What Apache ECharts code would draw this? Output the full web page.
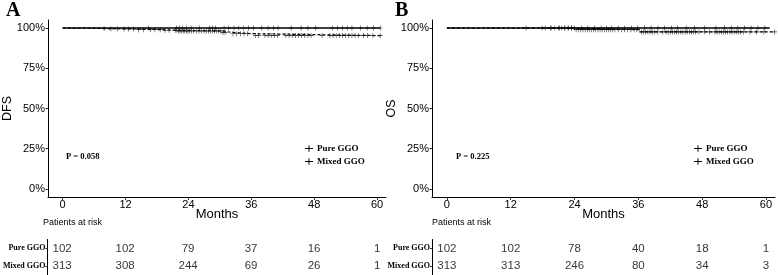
<!DOCTYPE html>
<html>
<head>
<meta charset="utf-8">
<script src="https://cdn.jsdelivr.net/npm/echarts@6/dist/echarts.min.js"></script>
<style>html,body{margin:0;padding:0;background:#fff;}#c{width:778px;height:275px;}</style>
</head>
<body>
<div id="c"></div>
<script>
// ---------- DATA ----------
var xTicks = [0, 12, 24, 36, 48, 60];
var yTicks = [0, 25, 50, 75, 100];
var groups = ['Pure GGO', 'Mixed GGO'];

// Panel A (DFS) step curves: [month, survival %]
var dfsPureCurve = [[0, 100], [60.6, 100]];
var dfsMixedCurve = [[0, 100], [5, 99.7], [8, 99.4], [14, 99.0], [19, 98.6], [22, 98.2], [30.5, 97.3], [32.2, 96.5], [36.3, 95.3], [60.6, 95.3]];
var dfsPureCensor = [16.4, 21.7, 22.3, 22.9, 23.6, 24.5, 26.1, 28.0, 28.6, 29.2, 30.8, 31.7, 32.7, 33.6, 34.5, 35.5, 36.4, 38.0, 39.2, 40.2, 41.1, 43.6, 45.5, 46.8, 48.3, 51.5, 52.4, 53.4, 54.3, 55.2, 56.8, 58.1, 59.3, 60.6];
var dfsMixedCensor = [7.9, 9.2, 10.4, 11.7, 12.6, 13.5, 14.5, 15.4, 16.7, 17.6, 18.6, 19.5, 20.3, 21.5, 21.8, 22.1, 22.4, 22.7, 23.0, 23.3, 23.6, 23.9, 24.2, 24.6, 25.0, 25.5, 26.0, 26.5, 27.0, 27.4, 27.8, 28.2, 28.6, 29.0, 29.4, 29.8, 30.2, 30.6, 31.0, 32.5, 33.2, 33.9, 34.6, 35.3, 36.8, 37.4, 38.6, 39.2, 39.8, 40.4, 41.0, 42.6, 43.2, 43.8, 44.4, 45.0, 45.6, 46.2, 46.8, 47.4, 49.5, 51.0, 51.6, 52.2, 52.8, 53.4, 54.0, 54.6, 55.2, 55.8, 56.4, 57.4, 58.2, 59.2, 60.6];
var dfsRiskPure = [102, 102, 79, 37, 16, 1];
var dfsRiskMixed = [313, 308, 244, 69, 26, 1];
var dfsP = 'P = 0.058';

// Panel B (OS)
var osPureCurve = [[0, 100], [60.7, 100]];
var osMixedCurve = [[0, 100], [23.8, 99.0], [36.2, 97.6], [61.6, 97.6]];
var osPureCensor = [14.9, 17.9, 19.6, 21.2, 22.1, 22.8, 23.4, 24.0, 25.3, 26.5, 27.8, 29.0, 30.0, 30.9, 32.2, 33.4, 34.7, 35.9, 37.2, 38.4, 39.7, 40.9, 42.2, 43.4, 45.0, 46.6, 48.5, 50.6, 52.2, 53.5, 54.7, 56.0, 57.2, 58.5, 59.8];
var osMixedCensor = [18.5, 19.5, 20.3, 21.0, 21.6, 22.2, 22.8, 23.4, 24.3, 24.7, 25.1, 25.6, 26.0, 26.4, 26.8, 27.2, 27.6, 28.0, 28.4, 28.8, 29.2, 29.6, 30.0, 30.4, 30.8, 31.2, 31.6, 32.2, 32.8, 33.4, 34.0, 34.6, 35.2, 35.7, 36.6, 37.0, 37.4, 37.8, 38.2, 38.6, 39.0, 39.6, 40.6, 41.2, 41.6, 42.0, 42.4, 42.8, 43.2, 43.6, 44.0, 44.4, 44.8, 45.2, 45.6, 46.0, 46.4, 46.8, 47.4, 48.4, 49.4, 50.4, 50.8, 51.2, 51.6, 52.0, 52.4, 52.8, 53.2, 53.6, 54.0, 54.4, 54.8, 55.2, 55.8, 57.0, 58.2, 59.6, 61.6];
var osRiskPure = [102, 102, 78, 40, 18, 1];
var osRiskMixed = [313, 313, 246, 80, 34, 3];
var osP = 'P = 0.225';

// ---------- BUILD ----------
var plusPath = 'path://M4.4,0H5.6V10H4.4Z M0,4.4H10V5.6H0Z';
var legendIcon = 'path://M0,4.5H10V5.5H0Z M4.4,1H5.6V9H4.4Z';

function survAt(curve, t) {
  var s = curve[0][1];
  for (var i = 0; i < curve.length; i++) { if (curve[i][0] <= t) s = curve[i][1]; }
  return s;
}
function censorPts(curve, times) { return times.map(function (t) { return [t, survAt(curve, t)]; }); }
function riskPts(pure, mixed) {
  var out = [];
  xTicks.forEach(function (x, i) { out.push([x, groups[0], pure[i]]); out.push([x, groups[1], mixed[i]]); });
  return out;
}

var sans = 'Liberation Sans, Arial, sans-serif';
var serif = 'Liberation Serif, Times New Roman, serif';
var XMIN = -2.8, XMAX = 61.7;

function kmX(gi) {
  return {
    type: 'value', gridIndex: gi, min: XMIN, max: XMAX,
    name: 'Months', nameLocation: 'middle', nameGap: 11, nameMoveOverlap: false,
    nameTextStyle: { fontFamily: sans, fontSize: 13, color: '#000' },
    axisLine: { show: true, onZero: false, lineStyle: { color: '#000', width: 1 } },
    axisTick: { show: true, length: 3, customValues: xTicks, lineStyle: { color: '#333' } },
    axisLabel: { customValues: xTicks, margin: 2, fontFamily: sans, fontSize: 11, color: '#000' },
    splitLine: { show: false }
  };
}
function kmY(gi, nm) {
  return {
    type: 'value', gridIndex: gi, min: -5, max: 105,
    name: nm, nameLocation: 'middle', nameGap: 34, nameRotate: 90, nameMoveOverlap: false,
    nameTextStyle: { fontFamily: sans, fontSize: 12.5, color: '#000' },
    axisLine: { show: true, onZero: false, lineStyle: { color: '#000', width: 1 } },
    axisTick: { show: true, length: 2.5, customValues: yTicks, lineStyle: { color: '#333' } },
    axisLabel: { customValues: yTicks, margin: 3, formatter: '{value}%', fontFamily: sans, fontSize: 11, color: '#000' },
    splitLine: { show: false }
  };
}
function riskX(gi) {
  return { type: 'value', gridIndex: gi, min: XMIN, max: XMAX, show: false, axisLine: { onZero: false }, splitLine: { show: false } };
}
function riskY(gi) {
  return {
    type: 'category', gridIndex: gi, data: groups, inverse: true,
    axisLine: { show: true, onZero: false, lineStyle: { color: '#000', width: 1 } },
    axisTick: { show: true, length: 2, alignWithLabel: true, lineStyle: { color: '#333' } },
    axisLabel: { margin: 2, fontFamily: serif, fontWeight: 'bold', fontSize: 8, color: '#000' },
    splitLine: { show: false }
  };
}

function kmSeries(xi, curvePure, curveMixed, cPure, cMixed) {
  return [
    { name: groups[0], type: 'line', xAxisIndex: xi, yAxisIndex: xi, step: 'end', data: curvePure,
      showSymbol: false, symbol: 'none', lineStyle: { color: '#000', width: 1.4, type: 'solid' }, itemStyle: { color: '#000' }, z: 3 },
    { name: groups[1], type: 'line', xAxisIndex: xi, yAxisIndex: xi, step: 'end', data: curveMixed,
      showSymbol: false, symbol: 'none', lineStyle: { color: '#000', width: 1.2, type: [3, 2] }, itemStyle: { color: '#000' }, z: 3 },
    { name: groups[0], type: 'scatter', xAxisIndex: xi, yAxisIndex: xi, data: censorPts(curvePure, cPure),
      symbol: plusPath, symbolSize: 5, itemStyle: { color: '#000' }, z: 4 },
    { name: groups[1], type: 'scatter', xAxisIndex: xi, yAxisIndex: xi, data: censorPts(curveMixed, cMixed),
      symbol: plusPath, symbolSize: 5, itemStyle: { color: '#000' }, z: 4 }
  ];
}
function riskSeries(xi, pure, mixed) {
  return {
    type: 'scatter', xAxisIndex: xi, yAxisIndex: xi, data: riskPts(pure, mixed),
    symbolSize: 1, itemStyle: { color: 'rgba(0,0,0,0)' },
    label: { show: true, position: 'inside', formatter: function (p) { return String(p.value[2]); },
      fontFamily: sans, fontSize: 11.5, color: '#000' }
  };
}
function legendCfg(left) {
  return {
    data: groups, orient: 'vertical', left: left, top: 139, itemGap: 4,
    icon: legendIcon, itemWidth: 8, itemHeight: 8,
    textStyle: { fontFamily: serif, fontWeight: 'bold', fontSize: 9, color: '#000', padding: [0, 0, 0, -1] },
    selectedMode: false
  };
}

var option = {
  animation: false,
  backgroundColor: '#fff',
  grid: [
    { left: 43, top: 20, width: 343, height: 177 },
    { left: 43, top: 239.5, width: 343, height: 42 },
    { left: 432, top: 20, width: 343, height: 177 },
    { left: 432, top: 239.5, width: 343, height: 42 }
  ],
  xAxis: [kmX(0), riskX(1), kmX(2), riskX(3)],
  yAxis: [kmY(0, 'DFS'), riskY(1), kmY(2, 'OS'), riskY(3)],
  legend: [legendCfg(300), legendCfg(689)],
  series: [].concat(
    kmSeries(0, dfsPureCurve, dfsMixedCurve, dfsPureCensor, dfsMixedCensor),
    [riskSeries(1, dfsRiskPure, dfsRiskMixed)],
    kmSeries(2, osPureCurve, osMixedCurve, osPureCensor, osMixedCensor),
    [riskSeries(3, osRiskPure, osRiskMixed)]
  ),
  graphic: [
    { type: 'text', left: 6, top: 1, style: { text: 'A', font: 'bold 20px ' + serif, fill: '#000' } },
    { type: 'text', left: 395, top: 1, style: { text: 'B', font: 'bold 20px ' + serif, fill: '#000' } },
    { type: 'text', left: 66, top: 152, style: { text: dfsP, font: 'bold 8.5px ' + serif, fill: '#000' } },
    { type: 'text', left: 456, top: 152, style: { text: osP, font: 'bold 8.5px ' + serif, fill: '#000' } },
    { type: 'text', left: 43, top: 218, style: { text: 'Patients at risk', font: '9px ' + sans, fill: '#000' } },
    { type: 'text', left: 432, top: 218, style: { text: 'Patients at risk', font: '9px ' + sans, fill: '#000' } }
  ]
};
var chart = echarts.init(document.getElementById('c'), null, { renderer: 'canvas' });
chart.setOption(option);
</script>
</body>
</html>
